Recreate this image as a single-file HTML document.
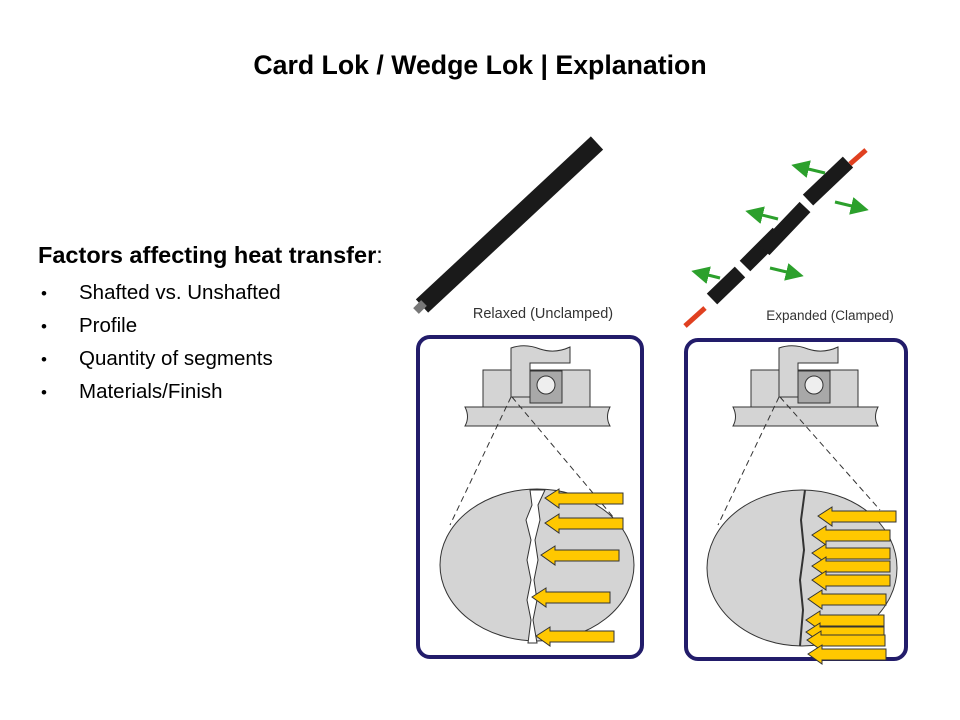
<!DOCTYPE html>
<html><head><meta charset="utf-8"><style>
body{margin:0;width:960px;height:720px;background:#fff;overflow:hidden;font-family:"Liberation Sans",Arial,sans-serif;position:relative}
.t{position:absolute;left:0;width:960px;top:50px;text-align:center;font-weight:bold;font-size:26.7px}
.h{position:absolute;left:38px;top:242px;font-size:23.5px}
ul{position:absolute;left:41px;top:276px;margin:0;padding:0;list-style:none;font-size:20.5px}
li{height:33px;line-height:33px}
li:before{content:"•";display:inline-block;width:38px;font-size:17px}
</style></head><body>
<div class="t">Card Lok / Wedge Lok | Explanation</div>
<div class="h"><b>Factors affecting heat transfer</b>:</div>
<ul><li>Shafted vs. Unshafted</li><li>Profile</li><li>Quantity of segments</li><li>Materials/Finish</li></ul>
<svg width="960" height="720" style="position:absolute;left:0;top:0">
<defs>
<marker id="g" markerWidth="6" markerHeight="6" refX="3" refY="3" orient="auto"><path d="M0,0 L6,3 L0,6Z" fill="#2ca02c"/></marker>
<g id="arr"><polygon points="0,0 14,-9 14,-5 78,-5 78,6 14,6 14,10" fill="#ffc800" stroke="#333" stroke-width="1"/></g>
<g id="clamp">
<path d="M465,407 L610,407 Q605,417 610,426 L465,426 Q470,417 465,407Z" fill="#d4d4d4" stroke="#333"/>
<rect x="483" y="370" width="107" height="37" fill="#d4d4d4" stroke="#333"/>
<rect x="530" y="371" width="32" height="32" fill="#a8a8a8" stroke="#333"/>
<circle cx="546" cy="385" r="9" fill="#eee" stroke="#333"/>
<path d="M511,348 Q525,343 540,349 Q555,354 570,347 L570,363 L530,363 L530,397 L511,397Z" fill="#d4d4d4" stroke="#333"/>
</g>
</defs>
<line x1="422" y1="306" x2="597" y2="143" stroke="#1a1a1a" stroke-width="18"/>
<line x1="416" y1="311" x2="424" y2="303" stroke="#777" stroke-width="8"/>
<text x="543" y="318" font-size="14.5" text-anchor="middle" fill="#333">Relaxed (Unclamped)</text>
<g stroke="#1a1a1a" stroke-width="15">
<line x1="712" y1="299" x2="740" y2="272"/><line x1="745" y1="266" x2="778" y2="233"/>
<line x1="764" y1="250" x2="805" y2="207"/><line x1="808" y1="200" x2="848" y2="162"/>
</g>
<g stroke="#2ca02c" stroke-width="3" marker-end="url(#g)">
<line x1="720" y1="278" x2="700" y2="273"/><line x1="778" y1="219" x2="754" y2="213"/>
<line x1="825" y1="173" x2="800" y2="167"/><line x1="770" y1="268" x2="795" y2="274"/>
<line x1="835" y1="202" x2="860" y2="208"/>
</g>
<g stroke="#e04020" stroke-width="5">
<line x1="685" y1="326" x2="705" y2="308"/><line x1="866" y1="150" x2="850" y2="164"/>
</g>
<text x="830" y="320" font-size="13.5" text-anchor="middle" fill="#333">Expanded (Clamped)</text>
<rect x="418" y="337" width="224" height="320" rx="12" fill="#fff" stroke="#221c6a" stroke-width="4"/>
<rect x="686" y="340" width="220" height="319" rx="12" fill="#fff" stroke="#221c6a" stroke-width="4"/>
<use href="#clamp"/>
<use href="#clamp" transform="translate(268,0)"/>
<g stroke="#333" stroke-dasharray="6,4" fill="none"><line x1="511" y1="397" x2="450" y2="525"/><line x1="512" y1="397" x2="614" y2="518"/>
<line x1="779" y1="397" x2="718" y2="525"/><line x1="780" y1="397" x2="880" y2="510"/></g>
<ellipse cx="537" cy="565" rx="97" ry="76" fill="#d4d4d4" stroke="#333"/>
<path d="M530,490 L545,490 L538,505 L540,520 L535,540 L538,560 L534,580 L537,600 L533,620 L537,643 L528,643 L531,620 L527,600 L531,580 L527,560 L531,540 L526,520 L532,505Z" fill="#fff" stroke="#333"/>
<use href="#arr" transform="translate(545,498)"/><use href="#arr" transform="translate(545,523)"/>
<use href="#arr" transform="translate(541,555)"/><use href="#arr" transform="translate(532,597)"/>
<use href="#arr" transform="translate(536,636)"/>
<ellipse cx="802" cy="568" rx="95" ry="78" fill="#d4d4d4" stroke="#333"/>
<path d="M805,490 L801,520 L804,550 L800,580 L803,610 L800,646" fill="none" stroke="#333" stroke-width="2"/>
<use href="#arr" transform="translate(818,516)"/><use href="#arr" transform="translate(812,535)"/>
<use href="#arr" transform="translate(812,553)"/><use href="#arr" transform="translate(812,566)"/>
<use href="#arr" transform="translate(812,580)"/><use href="#arr" transform="translate(808,599)"/>
<use href="#arr" transform="translate(806,620)"/><use href="#arr" transform="translate(806,632)"/>
<use href="#arr" transform="translate(807,640)"/><use href="#arr" transform="translate(808,654)"/>
</svg>
</body></html>
